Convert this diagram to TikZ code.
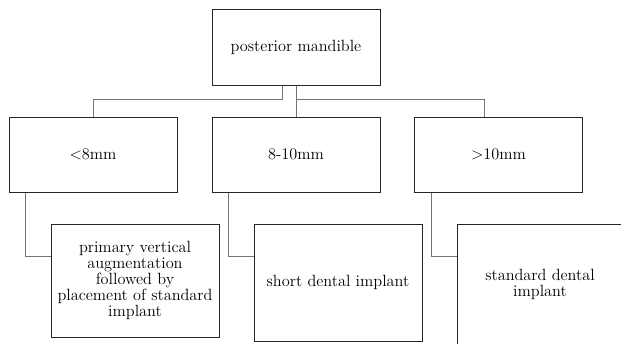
\documentclass[tikz,border=0pt]{standalone}
\usetikzlibrary{positioning}

\begin{document}
\begin{tikzpicture}[x=0.75pt,y=-0.75pt,
box/.style={rectangle,draw=black!85,line width=0.75pt,minimum width=126pt,inner sep=1pt,align=center,font=\fontsize{12.2}{12}\selectfont},
link/.style={draw=black!55,line width=0.75pt}]
\useasboundingbox (0,0) rectangle (621,343);
\clip (0,0) rectangle (621,343);
% root
\node at (296,47)[box,minimum height=57pt](top){posterior mandible};
% bone height
\node at (93,154.5)[box,minimum height=56.25pt](lt){\textless8mm};
\node at (296,154.5)[box,minimum height=56.25pt](mid){8-10mm};
\node at (498.5,154.5)[box,minimum height=56.25pt](rt){\textgreater10mm};
% treatment
\node at (135,280.5)[box,minimum height=84.75pt](out1){primary vertical\\augmentation\\followed by\\placement of standard\\implant};
\node at (338,282.5)[box,minimum height=87.75pt](out2){short dental implant};
\node at (540,284)[box,minimum width=124.5pt,minimum height=90pt](out3){standard dental\\implant};
% connectors
\draw[link] ([xshift=-10.5pt]top.south) -- ++(0,-10.5pt) -| (lt.north);
\draw[link] (top.south) -- (mid.north);
\draw[link] ([yshift=-10.5pt]top.south) -| ([xshift=-10.875pt]rt.north);
\draw[link] ([xshift=12.75pt]lt.south west) |- ([yshift=-24.75pt]out1.north west);
\draw[link] ([xshift=12.75pt]mid.south west) |- ([yshift=-24.75pt]out2.north west);
\draw[link] ([xshift=12.75pt]rt.south west) |- ([yshift=-24.75pt]out3.north west);
\end{tikzpicture}
\end{document}
